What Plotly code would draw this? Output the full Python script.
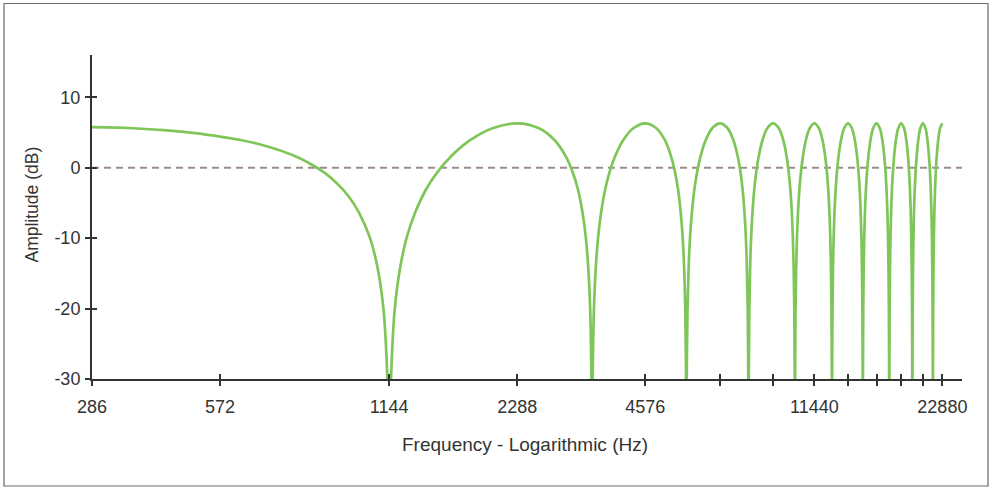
import math
import plotly.graph_objects as go

# ---------------- data ----------------
# low-frequency segment (falling slope of the first lobe, down to the 1144 Hz notch)
lobe0_hz = [228.8, 286, 343, 400, 458, 515, 572, 629, 686, 744, 801, 858, 915,
            972, 1030, 1075, 1110, 1133, 1144]
lobe0_db = [5.75, 5.6, 5.3, 4.9, 4.4, 3.9, 3.25, 2.5, 1.65, 0.6, -0.6, -2.1, -3.95,
            -6.4, -9.9, -14.3, -20.3, -30, -40]

# amplitude profile of each full lobe (notch side -> peak -> notch side, then notch)
lobe_db = [-30, -20.3, -14.3, -9.9, -6.4, -3.1, -0.6, 1.65, 3.9, 5.6, 6.3,
           5.6, 3.9, 1.65, -0.6, -3.1, -6.4, -9.9, -14.3, -20.3, -30, -40]

lobe_2288_hz = [1155, 1178, 1213, 1258, 1316, 1396, 1487, 1602, 1773, 2002, 2288,
                2574, 2803, 2974, 3089, 3180, 3260, 3318, 3363, 3398, 3421, 3432]
lobe_4576_hz = [3443, 3466, 3501, 3546, 3604, 3684, 3775, 3890, 4061, 4290, 4576,
                4862, 5091, 5262, 5377, 5468, 5548, 5606, 5651, 5686, 5709, 5720]
lobe_6864_hz = [5731, 5754, 5789, 5834, 5892, 5972, 6063, 6178, 6349, 6578, 6864,
                7150, 7379, 7550, 7665, 7756, 7836, 7894, 7939, 7974, 7997, 8008]
lobe_9152_hz = [8019, 8042, 8077, 8122, 8180, 8260, 8351, 8466, 8637, 8866, 9152,
                9438, 9667, 9838, 9953, 10044, 10124, 10182, 10227, 10262, 10285, 10296]
lobe_11440_hz = [10307, 10330, 10365, 10410, 10468, 10548, 10639, 10754, 10925, 11154, 11440,
                 11726, 11955, 12126, 12241, 12332, 12412, 12470, 12515, 12550, 12573, 12584]
lobe_13728_hz = [12595, 12618, 12653, 12698, 12756, 12836, 12927, 13042, 13213, 13442, 13728,
                 14014, 14243, 14414, 14529, 14620, 14700, 14758, 14803, 14838, 14861, 14872]
lobe_16016_hz = [14883, 14906, 14941, 14986, 15044, 15124, 15215, 15330, 15501, 15730, 16016,
                 16302, 16531, 16702, 16817, 16908, 16988, 17046, 17091, 17126, 17149, 17160]
lobe_18304_hz = [17171, 17194, 17229, 17274, 17332, 17412, 17503, 17618, 17789, 18018, 18304,
                 18590, 18819, 18990, 19105, 19196, 19276, 19334, 19379, 19414, 19437, 19448]
lobe_20592_hz = [19459, 19482, 19517, 19562, 19620, 19700, 19791, 19906, 20077, 20306, 20592,
                 20878, 21107, 21278, 21393, 21484, 21564, 21622, 21667, 21702, 21725, 21736]
lobe_22880_hz = [21747, 21770, 21805, 21850, 21908, 21988, 22079, 22194, 22365, 22594, 22880]

# axis ticks
x_tick_hz = [228.8, 457.6, 1144, 2288, 4576, 6864, 9152, 11440, 13728, 16016,
             18304, 20592, 22880]
x_tick_text = ["286", "572", "1144", "2288", "4576", "", "", "11440", "", "", "", "", "22880"]
y_tick_vals = [-30, -20, -10, 0, 10]
y_tick_text = ["-30", "-20", "-10", "0", "10"]

# ---------------- assemble the curve ----------------
freq = list(lobe0_hz)
amp = list(lobe0_db)
for lob in [lobe_2288_hz, lobe_4576_hz, lobe_6864_hz, lobe_9152_hz, lobe_11440_hz,
            lobe_13728_hz, lobe_16016_hz, lobe_18304_hz, lobe_20592_hz, lobe_22880_hz]:
    freq += lob
    amp += lobe_db[:len(lob)]

GREEN = "#7fc659"
INK = "#333333"
FONT = "Liberation Sans, Arial, sans-serif"

xr = [math.log10(228.8), math.log10(25445)]
yr = [-30, 16]

fig = go.Figure()
fig.add_trace(go.Scatter(x=freq, y=amp, mode="lines",
                         line=dict(color=GREEN, width=2.7, shape="spline", smoothing=1.0),
                         showlegend=False, hoverinfo="skip"))
# companion trace so the overlay axes (inner half of the cross ticks) are drawn
fig.add_trace(go.Scatter(x=[], y=[], xaxis="x2", yaxis="y2", showlegend=False,
                         hoverinfo="skip"))

common_x = dict(type="log", range=xr, tickvals=x_tick_hz, showgrid=False, zeroline=False,
                ticklen=5, tickwidth=2, tickcolor=INK, automargin=False)
common_y = dict(range=yr, tickvals=y_tick_vals, showgrid=False, zeroline=False,
                ticklen=5, tickwidth=2, tickcolor=INK, automargin=False)

fig.update_layout(
    width=992, height=489,
    margin=dict(l=92, r=30, t=55, b=110),
    paper_bgcolor="white", plot_bgcolor="white",
    font=dict(family=FONT, color=INK, size=18),
    xaxis=dict(**common_x, ticktext=x_tick_text, ticks="outside", showline=True,
               linecolor=INK, linewidth=2, tickfont=dict(size=18, color=INK),
               ticklabelstandoff=5),
    yaxis=dict(**common_y, ticktext=y_tick_text, ticks="outside", showline=True,
               linecolor=INK, linewidth=2, tickfont=dict(size=18, color=INK),
               ticklabelstandoff=1),
    xaxis2=dict(**common_x, overlaying="x", anchor="y", side="bottom", ticks="inside",
                showticklabels=False, showline=False),
    yaxis2=dict(**common_y, overlaying="y", anchor="x", side="left", ticks="inside",
                showticklabels=False, showline=False),
    shapes=[
        dict(type="line", xref="paper", x0=0, x1=1, yref="y", y0=0, y1=0,
             line=dict(color="#9e8c8c", width=2, dash="7px,5px"), layer="below"),
        dict(type="rect", xref="paper", yref="paper",
             x0=(4 - 92) / 870, x1=(988 - 92) / 870,
             y0=(379 - 486) / 324, y1=(379 - 3.5) / 324,
             line=dict(color="#6a6a6a", width=1.2), fillcolor="rgba(0,0,0,0)"),
    ],
    annotations=[
        dict(text="Amplitude (dB)", xref="paper", yref="paper",
             x=(31.5 - 92) / 870, y=(379 - 205) / 324, textangle=-90,
             showarrow=False, xanchor="center", yanchor="middle",
             font=dict(size=17.5, color=INK, family=FONT)),
        dict(text="Frequency - Logarithmic (Hz)", xref="paper", yref="paper",
             x=(525 - 92) / 870, y=(379 - 444) / 324,
             showarrow=False, xanchor="center", yanchor="middle",
             font=dict(size=19, color=INK, family=FONT)),
    ],
)

fig.write_html("out.html",
               config={"displayModeBar": False},
               post_script="document.body.style.margin='0';"
                           "document.body.style.overflow='hidden';")
